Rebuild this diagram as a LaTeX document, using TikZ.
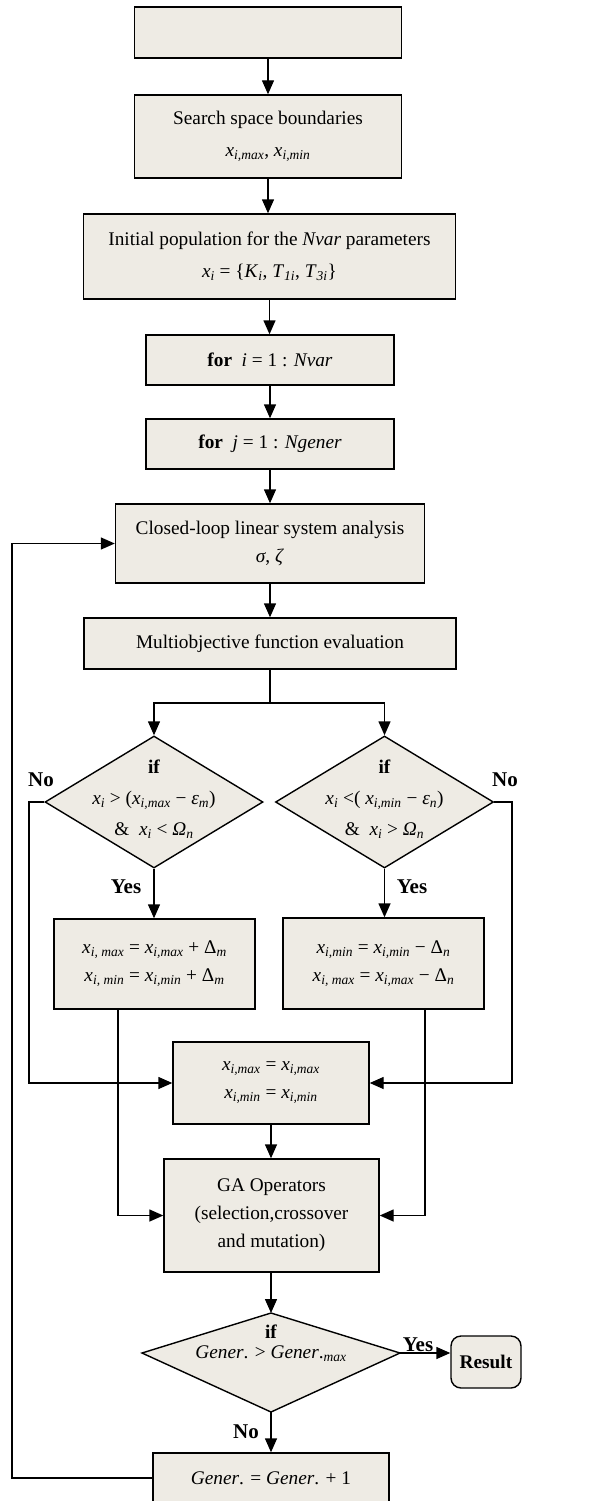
\documentclass[tikz,border=0pt]{standalone}
\usepackage{fontspec}
\setmainfont{Liberation Serif}
\usetikzlibrary{shapes.geometric,arrows.meta}
\definecolor{boxfill}{HTML}{EEEBE4}
\newcommand{\xs}[1]{\textit{x}\textsubscript{\textit{#1}}}
\newcommand{\sbi}[1]{\textsubscript{\textit{#1}}}
\tikzset{
    block/.style={draw, line width=1.4pt, fill=boxfill, align=center, inner sep=0pt,
        font=\fontsize{19.3}{28}\selectfont},
    cond/.style={draw, diamond, line width=1.4pt, fill=boxfill, inner sep=0pt},
    txt/.style={align=center, font=\fontsize{19.3}{28}\selectfont},
    lbl/.style={font=\fontsize{21}{24}\selectfont\bfseries},
    ln/.style={line width=1.4pt},
    arr/.style={line width=1.4pt, -{Triangle[length=14pt,width=12pt]}}
}
\begin{document}
\begin{tikzpicture}[x=1pt, y=-1pt]
        \useasboundingbox (0,0) rectangle (602,1501);
        \clip (0,0) rectangle (602,1501);
        \node[block, minimum width=267pt, minimum height=51pt] (start) at (268,32.5) {};
        \node[block, minimum width=267pt, minimum height=83pt] (bounds) at (268,136.5) {Search space boundaries\\[4pt] \xs{i,max}, \xs{i,min}};
        \node[block, minimum width=372pt, minimum height=85pt] (init) at (269.5,256.5) {Initial population for the \textit{Nvar} parameters\\[4pt] \xs{i} = \{\textit{K}\sbi{i}, \textit{T}\sbi{1i}, \textit{T}\sbi{3i}\}};
        \node[block, minimum width=248pt, minimum height=50pt] (fori) at (270,360) {\textbf{for}\ \ \textit{i} = 1 : \textit{Nvar}};
        \node[block, minimum width=248pt, minimum height=50pt] (forj) at (270,444) {\textbf{for}\ \ \textit{j} = 1 : \textit{Ngener}};
        \node[block, minimum width=309pt, minimum height=79pt] (loop) at (270,543.5) {Closed-loop linear system analysis\\ \textit{σ}, \textit{ζ}};
        \node[block, minimum width=372pt, minimum height=51pt] (eval) at (270,643.5) {Multiobjective function evaluation};
        \coordinate (split) at (270,703);
        \node[cond, minimum width=218pt, minimum height=132pt] (ifmax) at (154,802) {};
        \node[txt] (ifmaxt) at (154,799) {\textbf{if}\\[3pt] \xs{i} > (\xs{i,max} − \textit{ε}\sbi{m})\\[3pt] \&\ \ \xs{i} < \textit{Ω}\sbi{n}};
        \node[cond, minimum width=218pt, minimum height=132pt] (ifmin) at (384.5,802) {};
        \node[txt] (ifmint) at (384.5,799) {\textbf{if}\\[3pt] \xs{i} <( \xs{i,min} − \textit{ε}\sbi{n})\\[3pt] \&\ \ \xs{i} > \textit{Ω}\sbi{n}};
        \node[block, minimum width=201pt, minimum height=90pt] (upmax) at (154.5,964) {\xs{i, max} = \xs{i,max} + Δ\sbi{m}\\ \xs{i, min} = \xs{i,min} + Δ\sbi{m}};
        \node[block, minimum width=201pt, minimum height=91pt] (upmin) at (383.5,963.5) {\xs{i,min} = \xs{i,min} − Δ\sbi{n}\\ \xs{i, max} = \xs{i,max} − Δ\sbi{n}};
        \node[block, minimum width=196pt, minimum height=82pt] (keep) at (271,1083) {\xs{i,max} = \xs{i,max}\\ \xs{i,min} = \xs{i,min}};
        \node[block, minimum width=215pt, minimum height=113pt] (ga) at (271.5,1215.5) {GA Operators\\ (selection,crossover\\ and mutation)};
        \coordinate (gtop) at (271,1313);
        \coordinate (gright) at (400,1353);
        \coordinate (gbot) at (271,1412);
        \coordinate (gleft) at (142,1353);
        \filldraw[ln, fill=boxfill] (gtop) -- (gright) -- (gbot) -- (gleft) -- cycle;
        \node[txt] (gent) at (271,1343) {\textbf{if}\\[-8pt] \textit{Gener}. > \textit{Gener}.\sbi{max}};
        \node[block, rounded corners=10pt, minimum width=70pt, minimum height=52pt] (result) at (486,1362) {\textbf{Result}};
        \node[block, minimum width=236pt, minimum height=50pt] (inc) at (271,1478) {\textit{Gener}. = \textit{Gener}. + 1};
        \coordinate (back) at (12,1478);
        \coordinate (nol) at (29,802);
        \coordinate (nor) at (512,802);
        \foreach \From/\To in {start/bounds, bounds/init, init/fori, fori/forj, forj/loop, loop/eval, ifmax/upmax, ifmin/upmin, keep/ga}{
            \draw[arr] (\From.south) -- (\From.south |- \To.north);
        }
        \draw[ln] (eval.south) -- (split);
        \draw[arr] (split) -| (ifmax.north);
        \draw[arr] (split) -| (ifmin.north);
        \draw[arr] (ifmax.west) -- (nol) |- (keep.west);
        \draw[arr] (ifmin.east) -- (nor) |- (keep.east);
        \draw[arr] (upmax.south) ++(-36.5,0) |- (ga.west);
        \draw[arr] (upmin.south) ++(41.5,0) |- (ga.east);
        \draw[arr] (gtop |- ga.south) -- (gtop);
        \draw[arr] (gright) -- (gright -| result.west);
        \draw[arr] (gbot) -- (gbot |- inc.north);
        \draw[arr] (inc.west) -- (back) |- (loop.west);
        \foreach \Point/\Text [count=\i] in {(41,780)/No, (505,780)/No, (126,887)/Yes, (412,887)/Yes, (418,1345)/Yes, (246,1432)/No}{
            \node[lbl] (tag\i) at \Point {\Text};
        }
\end{tikzpicture}
\end{document}
